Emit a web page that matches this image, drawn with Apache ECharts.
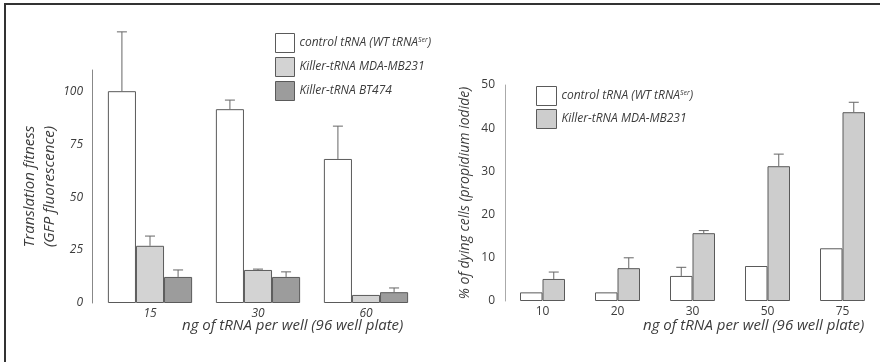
<!DOCTYPE html>
<html><head><meta charset="utf-8">
<script src="https://cdn.jsdelivr.net/npm/echarts@6/dist/echarts.min.js"></script>
<style>html,body{margin:0;padding:0;background:#fff}#c{width:880px;height:362px}</style>
</head><body><div id="c"></div>
<script>
// ---- data ----
const leftCats = ['15', '30', '60'];
const leftControl = [100, 91.5, 68];
const leftControlErr = [28, 4.3, 15.5];
const leftMDA = [27, 15.6, 3.8];
const leftMDAErr = [4.6, 0.4, 0];
const leftBT = [12.3, 12.3, 5.1];
const leftBTErr = [3.3, 2.4, 2];
const leftTicks = [0, 25, 50, 75, 100];

const rightCats = ['10', '20', '30', '50', '75'];
const rightControl = [2, 2, 5.8, 8.1, 12.2];
const rightControlErr = [0, 0, 2, 0, 0];
const rightMDA = [5.1, 7.6, 15.7, 31.2, 43.7];
const rightMDAErr = [1.6, 2.4, 0.6, 2.8, 2.3];
const rightTicks = [0, 10, 20, 30, 40, 50];

const NAME_CTRL = 'control tRNA (WT tRNA{sup|Ser})';
const NAME_MDA = 'Killer-tRNA MDA-MB231';
const NAME_BT = 'Killer-tRNA BT474';

const FONT = '"Open Sans", "Liberation Sans", sans-serif';
const TXT = '#3c3c3c';
const BORDER = '#5a5a5a';
const WHITE = '#ffffff', LIGHT = '#d3d3d3', DARK = '#9c9c9c', RGRAY = '#cdcdcd';

const LEFT_GAP = 0.22, RIGHT_GAP = 0.40;

function errSeries(name, gridIdx, vals, errs, idx, n, gap) {
  return {
    type: 'custom', name: name, xAxisIndex: gridIdx, yAxisIndex: gridIdx, z: 5,
    silent: true, clip: false,
    data: vals.map((v, i) => [i, v, errs[i]]),
    renderItem: function (params, api) {
      const ci = api.value(0), v = api.value(1), e = api.value(2);
      if (!e) return null;
      const band = api.size([1, 0])[0];
      const bw = band * (1 - gap) / n;
      const x = api.coord([ci, 0])[0] + (idx - (n - 1) / 2) * bw;
      const y0 = api.coord([ci, v])[1];
      const y1 = api.coord([ci, v + e])[1];
      const st = { stroke: '#666', lineWidth: 1 };
      return { type: 'group', children: [
        { type: 'line', shape: { x1: x, y1: y0, x2: x, y2: y1 }, style: st },
        { type: 'line', shape: { x1: x - 5, y1: y1, x2: x + 5, y2: y1 }, style: st }
      ]};
    }
  };
}

function barSeries(name, gridIdx, vals, color, gap) {
  return {
    type: 'bar', name: name, xAxisIndex: gridIdx, yAxisIndex: gridIdx,
    data: vals, barGap: '0%', barCategoryGap: (gap * 100) + '%',
    itemStyle: { color: color, borderColor: BORDER, borderWidth: 1 },
    emphasis: { disabled: true }, animation: false
  };
}

const legendRich = { sup: { fontSize: 7, fontStyle: 'italic', fontFamily: FONT, color: TXT, padding: [0, 0, 7, 0] } };

const chart = echarts.init(document.getElementById('c'));
chart.setOption({
  animation: false,
  backgroundColor: '#fff',
  grid: [
    { left: 96, top: 70, width: 324, height: 233 },
    { left: 505, top: 85, width: 381, height: 216 }
  ],
  xAxis: [
    { type: 'category', gridIndex: 0, data: leftCats,
      axisLine: { show: false }, axisTick: { show: false },
      axisLabel: { margin: 5, fontSize: 12, fontStyle: 'italic', fontFamily: FONT, color: TXT } },
    { type: 'category', gridIndex: 1, data: rightCats,
      axisLine: { show: false }, axisTick: { show: false },
      axisLabel: { margin: 5, fontSize: 12, fontFamily: FONT, color: TXT } }
  ],
  yAxis: [
    { type: 'value', gridIndex: 0, min: leftTicks[0], max: 110, interval: 25, offset: 4,
      splitLine: { show: false }, axisTick: { show: false },
      axisLine: { show: true, lineStyle: { color: '#888', width: 1 } },
      axisLabel: { showMaxLabel: false, margin: 9, fontSize: 12, fontStyle: 'italic', fontFamily: FONT, color: TXT,
        formatter: v => leftTicks.indexOf(v) >= 0 ? String(v) : '' },
      name: 'Translation fitness\n(GFP fluorescence)', nameLocation: 'middle', nameGap: 27,
      nameTextStyle: { fontSize: 15, fontStyle: 'italic', fontFamily: FONT, color: TXT, lineHeight: 20 } },
    { type: 'value', gridIndex: 1, min: rightTicks[0], max: rightTicks[rightTicks.length - 1], interval: 10,
      splitLine: { show: false }, axisTick: { show: false },
      axisLine: { show: true, lineStyle: { color: '#aaa', width: 1 } },
      axisLabel: { margin: 10, fontSize: 12, fontFamily: FONT, color: TXT },
      name: '% of dying cells (propidium iodide)', nameLocation: 'middle', nameGap: 33,
      nameTextStyle: { fontSize: 14, fontStyle: 'italic', fontFamily: FONT, color: TXT } }
  ],
  legend: [
    { orient: 'vertical', left: 275, top: 33, padding: 0, itemWidth: 19, itemHeight: 19, itemGap: 4, selectedMode: false,
      icon: 'rect',
      data: [
        { name: NAME_CTRL, itemStyle: { color: WHITE, borderColor: BORDER, borderWidth: 1 } },
        { name: NAME_MDA, itemStyle: { color: LIGHT, borderColor: BORDER, borderWidth: 1 } },
        { name: NAME_BT, itemStyle: { color: DARK, borderColor: BORDER, borderWidth: 1 } }
      ],
      textStyle: { fontSize: 12, fontStyle: 'italic', fontFamily: FONT, color: TXT, rich: legendRich } },
    { orient: 'vertical', left: 536, top: 86, padding: 0, itemWidth: 20, itemHeight: 19, itemGap: 3, selectedMode: false,
      icon: 'rect',
      data: [
        { name: NAME_CTRL, itemStyle: { color: WHITE, borderColor: BORDER, borderWidth: 1 } },
        { name: NAME_MDA, itemStyle: { color: RGRAY, borderColor: BORDER, borderWidth: 1 } }
      ],
      textStyle: { fontSize: 12, fontStyle: 'italic', fontFamily: FONT, color: TXT, rich: legendRich } }
  ],
  graphic: [
    { type: 'line', shape: { x1: 4, y1: 4, x2: 880, y2: 4 }, style: { stroke: '#333', lineWidth: 2 } },
    { type: 'line', shape: { x1: 5, y1: 4, x2: 5, y2: 362 }, style: { stroke: '#333', lineWidth: 2 } },
    { type: 'text', left: 182, top: 318, style: { text: 'ng of tRNA per well (96 well plate)', fontSize: 15, fontStyle: 'italic', fontFamily: FONT, fill: TXT } },
    { type: 'text', left: 643, top: 318, style: { text: 'ng of tRNA per well (96 well plate)', fontSize: 15, fontStyle: 'italic', fontFamily: FONT, fill: TXT } }
  ],
  series: [
    barSeries(NAME_CTRL, 0, leftControl, WHITE, LEFT_GAP),
    barSeries(NAME_MDA, 0, leftMDA, LIGHT, LEFT_GAP),
    barSeries(NAME_BT, 0, leftBT, DARK, LEFT_GAP),
    errSeries('e1', 0, leftControl, leftControlErr, 0, 3, LEFT_GAP),
    errSeries('e2', 0, leftMDA, leftMDAErr, 1, 3, LEFT_GAP),
    errSeries('e3', 0, leftBT, leftBTErr, 2, 3, LEFT_GAP),
    barSeries(NAME_CTRL, 1, rightControl, WHITE, RIGHT_GAP),
    barSeries(NAME_MDA, 1, rightMDA, RGRAY, RIGHT_GAP),
    errSeries('e4', 1, rightControl, rightControlErr, 0, 2, RIGHT_GAP),
    errSeries('e5', 1, rightMDA, rightMDAErr, 1, 2, RIGHT_GAP)
  ]
});
</script></body></html>
